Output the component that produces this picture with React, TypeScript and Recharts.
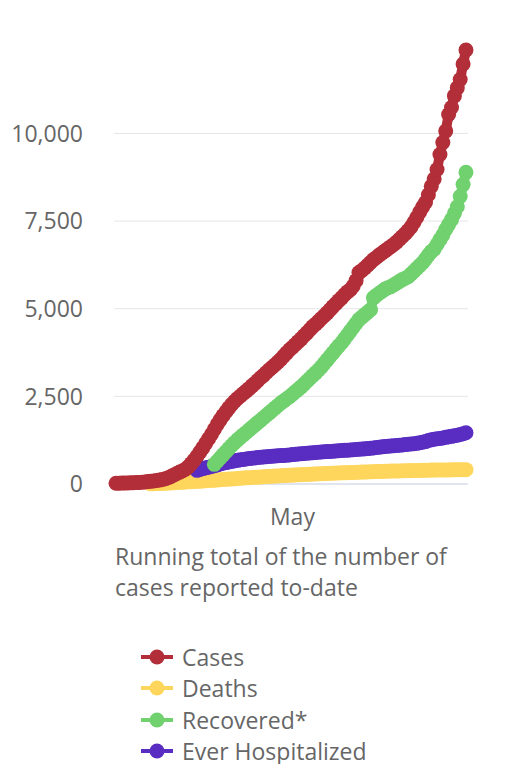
import React from "react";
import { LineChart, Line, XAxis, YAxis, CartesianGrid, Legend } from "recharts";

// daily running totals, index 0 = Mar 1, 61 = May 1
const cases = [
  20, 22, 25, 28, 30, 33, 36, 40, 45, 52,
  60, 68, 78, 88, 100, 112, 128, 150, 180, 215,
  260, 300, 340, 380, 420, 490, 580, 680, 790, 910,
  1030, 1160, 1290, 1420, 1560, 1700, 1830, 1950, 2060, 2170,
  2270, 2360, 2440, 2510, 2580, 2650, 2720, 2800, 2870, 2950,
  3030, 3100, 3180, 3260, 3330, 3400, 3480, 3560, 3650, 3740,
  3830, 3900, 3980, 4060, 4140, 4230, 4310, 4400, 4490, 4560,
  4640, 4720, 4800, 4880, 4970, 5060, 5140, 5230, 5310, 5400,
  5480, 5540, 5650, 5800, 6030, 6090, 6160, 6240, 6320, 6400,
  6460, 6530, 6590, 6650, 6710, 6770, 6830, 6900, 6980, 7060,
  7140, 7230, 7330, 7460, 7600, 7760, 7900, 8030, 8250, 8490,
  8700, 8970, 9400, 9740, 10070, 10540, 10740, 11070, 11300, 11540,
  11980, 12380,
];

const deaths = [
  null, null, null, null, null, null, null, null, null, null,
  null, null, 5, 8, 11, 14, 18, 22, 27, 32,
  37, 42, 47, 52, 57, 62, 67, 72, 76, 80,
  86, 92, 98, 104, 110, 116, 122, 128, 134, 140,
  146, 152, 158, 164, 170, 176, 181, 186, 191, 196,
  201, 206, 211, 216, 221, 226, 231, 236, 241, 246,
  250, 254, 258, 262, 266, 270, 274, 278, 282, 286,
  290, 294, 298, 302, 306, 309, 312, 315, 318, 321,
  324, 327, 330, 333, 336, 339, 342, 345, 348, 351,
  354, 357, 360, 363, 366, 368, 370, 372, 374, 376,
  378, 380, 382, 384, 386, 388, 390, 392, 394, 396,
  397, 398, 399, 400, 401, 402, 403, 404, 405, 406,
  408, 410,
];

const recovered = [
  null, null, null, null, null, null, null, null, null, null,
  null, null, null, null, null, null, null, null, null, null,
  null, null, null, null, null, null, null, null, null, null,
  null, null, null, null, 560, 650, 740, 830, 920, 1010,
  1100, 1180, 1260, 1330, 1400, 1470, 1540, 1610, 1680, 1750,
  1820, 1890, 1960, 2030, 2100, 2170, 2240, 2310, 2370, 2430,
  2490, 2560, 2630, 2700, 2770, 2850, 2930, 3010, 3090, 3170,
  3250, 3340, 3440, 3540, 3640, 3740, 3840, 3940, 4030, 4140,
  4250, 4360, 4470, 4580, 4690, 4760, 4830, 4900, 4970, 5310,
  5380, 5440, 5500, 5560, 5600, 5630, 5680, 5730, 5780, 5830,
  5870, 5910, 5990, 6070, 6150, 6230, 6310, 6420, 6530, 6630,
  6700, 6830, 6970, 7100, 7260, 7400, 7540, 7720, 7910, 8200,
  8540, 8890,
];

const hospitalized = [
  null, null, null, null, null, null, null, null, null, null,
  null, null, null, null, null, null, null, null, null, null,
  null, null, null, null, null, null, null, null, 390, 415,
  440, 460, 480, 500, 520, 545, 570, 590, 610, 630,
  645, 660, 675, 690, 700, 712, 724, 735, 745, 755,
  765, 772, 780, 787, 795, 800, 805, 810, 815, 822,
  830, 838, 846, 854, 862, 870, 877, 884, 891, 898,
  905, 912, 918, 924, 930, 936, 942, 948, 954, 960,
  966, 972, 978, 984, 990, 996, 1002, 1010, 1020, 1030,
  1040, 1050, 1060, 1068, 1076, 1084, 1092, 1100, 1108, 1116,
  1124, 1132, 1140, 1150, 1160, 1175, 1190, 1210, 1240, 1260,
  1275, 1290, 1300, 1315, 1330, 1345, 1360, 1375, 1390, 1410,
  1435, 1460,
];

const yTicks = [0, 2500, 5000, 7500, 10000];
const mayIndex = 61;

const series = [
  { key: "cases", name: "Cases", color: "#b22e38" },
  { key: "deaths", name: "Deaths", color: "#ffd65c" },
  { key: "recovered", name: "Recovered*", color: "#70d16e" },
  { key: "hospitalized", name: "Ever Hospitalized", color: "#592dc1" },
];

// drawn bottom to top
const drawOrder = ["deaths", "hospitalized", "recovered", "cases"];

const font = '"Open Sans", sans-serif';
const textColor = "#666666";

const data = cases.map((c, i) => ({
  day: i,
  cases: c,
  deaths: deaths[i],
  recovered: recovered[i],
  hospitalized: hospitalized[i],
}));

function LegendList() {
  return (
    <div style={{ fontFamily: font, fontSize: 23, color: textColor }}>
      {series.map((s) => (
        <div key={s.key} style={{ display: "flex", alignItems: "center", height: 31.5 }}>
          <svg width={34} height={16} style={{ marginRight: 8 }}>
            <line x1={1} y1={8} x2={33} y2={8} stroke={s.color} strokeWidth={4} />
            <circle cx={17} cy={8} r={7.5} fill={s.color} />
          </svg>
          <span>{s.name}</span>
        </div>
      ))}
    </div>
  );
}

export default function App() {
  return (
    <div style={{ position: "absolute", left: 0, top: 0, width: 507, height: 764, background: "#fff" }}>
      <LineChart
        width={507}
        height={764}
        data={data}
        margin={{ top: 50, right: 39, bottom: 220, left: 0 }}
        style={{ fontFamily: font }}
      >
        <CartesianGrid vertical={false} stroke="#e6e6e6" syncWithTicks />
        <XAxis
          dataKey="day"
          type="number"
          domain={[-0.7, 121.7]}
          ticks={[mayIndex]}
          tickFormatter={() => "May"}
          height={60}
          stroke="#ccd6eb"
          tickLine={false}
          tickSize={6}
          tickMargin={19}
          tick={{ fontSize: 23, fill: textColor }}
        />
        <YAxis
          domain={[0, 12380]}
          ticks={yTicks}
          width={114}
          axisLine={false}
          tickLine={false}
          tickSize={0}
          tickMargin={31}
          tickFormatter={(v: number) => v.toLocaleString("en-US")}
          tick={{ fontSize: 23, fill: textColor }}
        />
        {drawOrder.map((k) => {
          const s = series.find((x) => x.key === k)!;
          return (
            <Line
              key={s.key}
              dataKey={s.key}
              name={s.name}
              type="linear"
              stroke={s.color}
              strokeWidth={10}
              strokeLinecap="round"
              strokeLinejoin="round"
              dot={{ r: 7.5, fill: s.color, stroke: "none", strokeWidth: 0 }}
              activeDot={false}
              isAnimationActive={false}
            />
          );
        })}
        <Legend
          align="center"
          verticalAlign="middle"
          wrapperStyle={{ left: 140, top: 641, width: 360 }}
          content={() => <LegendList />}
        />
      </LineChart>
      <div
        style={{
          position: "absolute",
          left: 115,
          top: 541,
          width: 380,
          fontFamily: font,
          fontSize: 23,
          lineHeight: "31px",
          color: textColor,
        }}
      >
        Running total of the number of
        <br />
        cases reported to-date
      </div>
    </div>
  );
}
